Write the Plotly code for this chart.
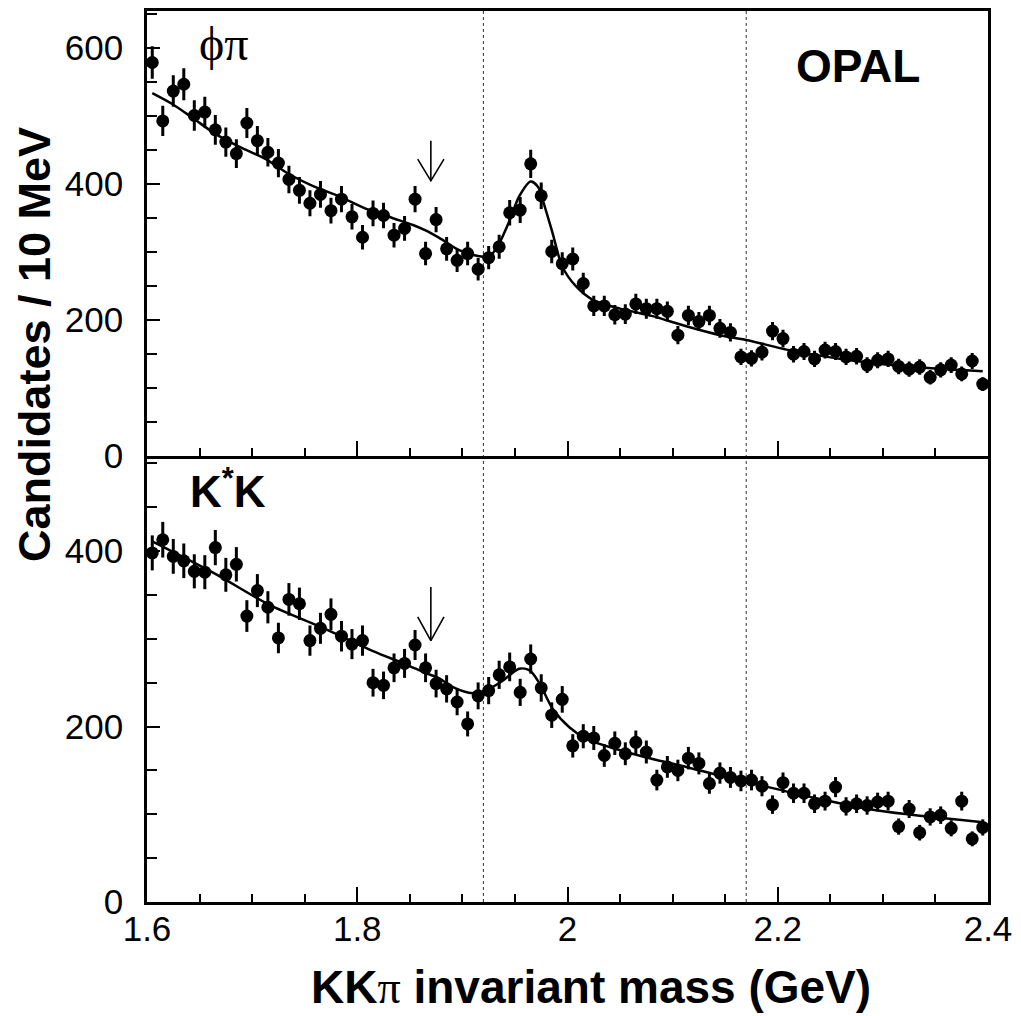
import plotly.graph_objects as go
import numpy as np

# ---------------- data ----------------
mass_bins = [1.605, 1.615, 1.625, 1.635, 1.645, 1.655, 1.665, 1.675, 1.685, 1.695,
             1.705, 1.715, 1.725, 1.735, 1.745, 1.755, 1.765, 1.775, 1.785, 1.795,
             1.805, 1.815, 1.825, 1.835, 1.845, 1.855, 1.865, 1.875, 1.885, 1.895,
             1.905, 1.915, 1.925, 1.935, 1.945, 1.955, 1.965, 1.975, 1.985, 1.995,
             2.005, 2.015, 2.025, 2.035, 2.045, 2.055, 2.065, 2.075, 2.085, 2.095,
             2.105, 2.115, 2.125, 2.135, 2.145, 2.155, 2.165, 2.175, 2.185, 2.195,
             2.205, 2.215, 2.225, 2.235, 2.245, 2.255, 2.265, 2.275, 2.285, 2.295,
             2.305, 2.315, 2.325, 2.335, 2.345, 2.355, 2.365, 2.375, 2.385, 2.395]

phipi_counts = [578, 492, 536, 546, 500, 505, 479, 461, 444, 489,
                463, 446, 430, 406, 390, 371, 384, 360, 377, 351,
                321, 356, 353, 324, 334, 377, 297, 347, 304, 287,
                297, 274, 291, 307, 357, 361, 429, 382, 300, 282,
                289, 253, 220, 220, 207, 208, 223, 216, 216, 212,
                177, 206, 197, 206, 187, 181, 145, 143, 152, 183,
                172, 149, 153, 142, 155, 153, 145, 146, 133, 140,
                142, 131, 127, 130, 115, 126, 133, 120, 139, 105]

kstark_counts = [398, 413, 394, 389, 377, 376, 404, 373, 385, 326,
                 355, 336, 301, 345, 340, 298, 312, 328, 303, 294,
                 298, 250, 247, 267, 272, 293, 267, 249, 243, 228,
                 203, 235, 241, 259, 268, 239, 277, 244, 213, 231,
                 178, 189, 187, 167, 181, 169, 182, 171, 139, 154,
                 150, 164, 158, 135, 147, 142, 138, 139, 132, 111,
                 136, 124, 124, 112, 115, 131, 109, 112, 110, 114,
                 115, 86, 106, 79, 97, 99, 84, 115, 72, 85]

phipi_fit_mass = [1.605, 1.624, 1.643, 1.665, 1.688, 1.713, 1.735, 1.757, 1.783, 1.808,
                  1.834, 1.853, 1.865, 1.878, 1.897, 1.916, 1.926, 1.935, 1.945, 1.954,
                  1.965, 1.972, 1.978, 1.986, 1.995, 2.008, 2.024, 2.050, 2.081, 2.113,
                  2.145, 2.170, 2.211, 2.265, 2.329, 2.395]
phipi_fit = [533, 517, 497, 473, 454, 436, 414, 397, 381, 363,
             349, 339, 331, 320, 302, 293, 293, 312, 346, 381,
             403, 395, 368, 326, 278, 249, 229, 216, 205, 190,
             177, 170, 155, 141, 130, 124]

kstark_fit_mass = [1.605, 1.665, 1.716, 1.770, 1.815, 1.846, 1.865, 1.878, 1.891, 1.910,
                   1.922, 1.938, 1.954, 1.964, 1.973, 1.986, 2.002, 2.018, 2.050, 2.081,
                   2.113, 2.145, 2.170, 2.234, 2.297, 2.395]
kstark_fit = [411, 374, 339, 311, 286, 271, 261, 255, 245, 238,
              241, 252, 266, 264, 250, 220, 199, 186, 173, 163,
              154, 144, 137, 119, 104, 91]

signal_window = [1.92, 2.17]          # dotted lines
dplus_mass = 1.87                     # arrow position
phipi_arrow = [463, 404]              # tail, tip
kstark_arrow = [359, 298]
arrow_halfwidth = 0.0125
phipi_head = 32
kstark_head = 27

y_top_ticks = [0, 200, 400, 600]
y_bot_ticks = [0, 200, 400]
x_ticks = [1.6, 1.8, 2.0, 2.2, 2.4]
x_tick_text = ["1.6", "1.8", "2", "2.2", "2.4"]

# ---------------- figure ----------------
fig = go.Figure()

def data_trace(y, xa, ya):
    return go.Scatter(x=mass_bins, y=y, mode="markers", xaxis=xa, yaxis=ya,
                      marker=dict(color="black", size=13),
                      error_y=dict(type="data", array=np.sqrt(np.array(y, float)),
                                   thickness=3, width=0, color="black"),
                      cliponaxis=False, showlegend=False)

def fit_trace(x, y, xa, ya):
    return go.Scatter(x=x, y=y, mode="lines", xaxis=xa, yaxis=ya,
                      line=dict(color="black", width=2.5, shape="spline", smoothing=0.8),
                      showlegend=False)

def arrow_trace(tail_tip, head, xa, ya):
    tail, tip = tail_tip
    xs = [dplus_mass, dplus_mass, None,
          dplus_mass - arrow_halfwidth, dplus_mass, dplus_mass + arrow_halfwidth]
    ys = [tail, tip, None, tip + head, tip, tip + head]
    return go.Scatter(x=xs, y=ys, mode="lines", xaxis=xa, yaxis=ya,
                      line=dict(color="black", width=1.6), showlegend=False)

fig.add_trace(fit_trace(phipi_fit_mass, phipi_fit, "x", "y"))
fig.add_trace(data_trace(phipi_counts, "x", "y"))
fig.add_trace(arrow_trace(phipi_arrow, phipi_head, "x", "y"))
fig.add_trace(fit_trace(kstark_fit_mass, kstark_fit, "x2", "y2"))
fig.add_trace(data_trace(kstark_counts, "x2", "y2"))
fig.add_trace(arrow_trace(kstark_arrow, kstark_head, "x2", "y2"))

for m in signal_window:
    fig.add_shape(type="line", xref="x2", yref="paper", x0=m, x1=m, y0=0, y1=1,
                  line=dict(color="#333", width=1, dash="dot"), layer="below")

split = 0.5011
tickfont = dict(family="Liberation Sans, Arial, sans-serif", size=35, color="black")
axis_common = dict(showline=True, linecolor="black", linewidth=2.5,
                   ticks="inside", tickcolor="black", tickwidth=1.8,
                   showgrid=False, zeroline=False, tickfont=tickfont)
minor_x = dict(ticks="inside", dtick=0.05, tick0=1.6, ticklen=8,
               tickwidth=1.8, tickcolor="black")
minor_y = dict(ticks="inside", dtick=50, tick0=0, ticklen=10,
               tickwidth=1.8, tickcolor="black")

fig.update_layout(
    width=1010, height=1005,
    margin=dict(l=139, r=30, t=0, b=111),
    paper_bgcolor="white", plot_bgcolor="white",
    xaxis=dict(axis_common, range=[1.6, 2.4], anchor="y", matches="x2", mirror=True,
               tickvals=x_ticks, showticklabels=False, ticklen=15, minor=minor_x),
    yaxis=dict(axis_common, range=[0, 653.7], domain=[split, 1], anchor="x", mirror=True,
               tickvals=y_top_ticks, ticklen=13, ticklabelstandoff=14, minor=minor_y),
    xaxis2=dict(axis_common, range=[1.6, 2.4], anchor="y2", mirror=False,
                tickvals=x_ticks, ticktext=x_tick_text, ticklen=15,
                ticklabelstandoff=-6, minor=minor_x),
    yaxis2=dict(axis_common, range=[0, 509], domain=[0, split], anchor="x2", mirror=True,
                tickvals=y_bot_ticks, ticklen=13, ticklabelstandoff=14, minor=minor_y),
)

bold = "Liberation Sans, Arial, sans-serif"
ann = dict(xref="paper", yref="paper", showarrow=False, xanchor="center", yanchor="middle")
fig.add_annotation(ann, x=-0.1345, y=0.626, textangle=-90,
                   text="<b>Candidates / 10 MeV</b>",
                   font=dict(family=bold, size=45, color="black"))
fig.add_annotation(ann, x=0.528, y=-0.0951,
                   text="<b>KK</b><span style=\"font-family:'Liberation Serif'\">π</span><b> invariant mass (GeV)</b>",
                   font=dict(family=bold, size=46, color="black"))
fig.add_annotation(ann, x=0.092, y=0.964,
                   text="ϕπ",
                   font=dict(family="Liberation Serif, DejaVu Serif, serif", size=48, color="black"))
fig.add_annotation(ann, x=0.8454, y=0.9385,
                   text="<b>OPAL</b>",
                   font=dict(family=bold, size=46, color="black"))
fig.add_annotation(ann, x=0.096, y=0.464,
                   text="<b>K<sup>*</sup>K</b>",
                   font=dict(family=bold, size=44, color="black"))

fig.write_html("out.html")
